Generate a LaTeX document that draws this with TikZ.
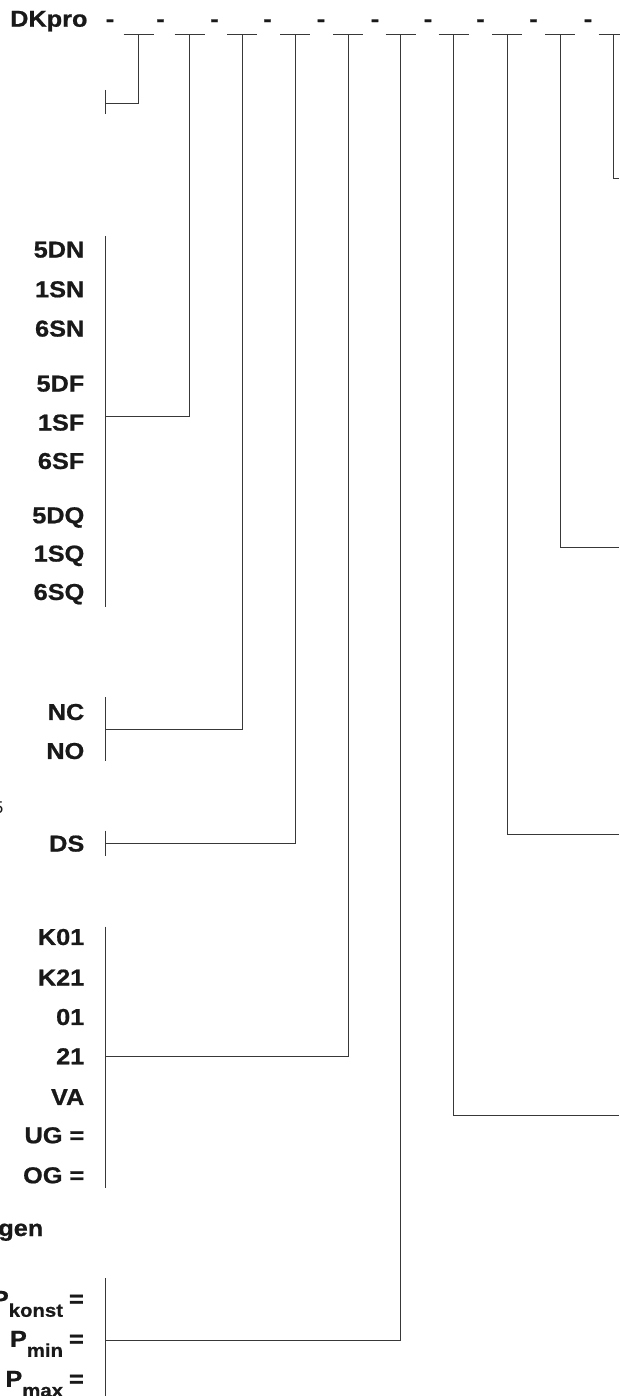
\documentclass[tikz,border=0pt]{standalone}
\usepackage{fontspec}
\setmainfont{Liberation Sans}[FakeStretch=1.1, BoldFeatures={FakeBold=0.8}]
\newfontfamily\plainfont{Liberation Sans}
\newcommand{\mainsz}{\bfseries\fontsize{23}{23}\selectfont}
\newcommand{\subsz}{\bfseries\fontsize{18.5}{18.5}\selectfont}
\newcommand{\psub}[1]{P\raisebox{-10pt}{\subsz #1}\kern 6pt=}
\begin{document}
\begin{tikzpicture}[x=1pt,y=-1pt,
  ln/.style={draw=black!78, line width=1pt},
  lbl/.style={anchor=east, inner sep=0pt, text height=16.5pt, text depth=0pt, font=\mainsz, text=black!90},
  dsh/.style={anchor=base, inner sep=0pt, font=\mainsz, text=black!90},
  title/.style={anchor=base west, inner sep=0pt, font=\mainsz, text=black!90},
  cut/.style={anchor=base east, inner sep=0pt, text=black!90}]
\useasboundingbox (0,0) rectangle (619,1396);

% title and separators
\node[title] (dk) at (10,26.7) {DKpro};
\foreach \i/\x in {1/110,2/160.5,3/214.5,4/267.5,5/321,6/375,7/428,8/480.5,9/533.5,10/588}
  \node[dsh] (d\i) at (\x,26.7) {-};

% top segments
\foreach \i/\x in {1/138.5,2/189.5,3/242,4/295,5/348,6/400.5,7/453.5,8/507,9/560,10/613.5} {
  \coordinate (t\i) at (\x,35);
  \coordinate (tl\i) at (\x-15,35);
  \coordinate (tr\i) at (\x+15,35);
  \draw[ln] (tl\i) -- (tr\i);
}

% left brackets (ticks)
\coordinate (a1) at (105,90);    \coordinate (b1) at (105,114.3);
\coordinate (a2) at (105,236);   \coordinate (b2) at (105,606.7);
\coordinate (a3) at (105,697);   \coordinate (b3) at (105,760.7);
\coordinate (a4) at (105,830.7); \coordinate (b4) at (105,855.7);
\coordinate (a5) at (105,926.7); \coordinate (b5) at (105,1188.3);
\coordinate (a6) at (105,1278);  \coordinate (b6) at (105,1400);
\foreach \i in {1,...,6} \draw[ln] (a\i) -- (b\i);

% join points on the left
\coordinate (k1) at (105,103.3);
\coordinate (k2) at (105,416.7);
\coordinate (k3) at (105,729.3);
\coordinate (k4) at (105,843.3);
\coordinate (k5) at (105,1056);
\coordinate (k6) at (105,1340);
\foreach \i in {1,...,6} \draw[ln] (t\i) |- (k\i);

% right-hand connectors (cut at the edge)
\coordinate (k7) at (619,1115);
\coordinate (k8) at (619,834);
\coordinate (k9) at (619,547);
\coordinate (k10) at (619,179);
\foreach \i in {7,...,10} \draw[ln] (t\i) |- (k\i);

% labels
\foreach \n/\t/\y in {l1/5DN/249.3, l2/1SN/289, l3/6SN/328.3, l4/5DF/383.3, l5/1SF/422.3,
  l6/6SF/460.7, l7/5DQ/515, l8/1SQ/553.3, l9/6SQ/591.7, l10/NC/711.7, l11/NO/750.7,
  l12/DS/843.3, l13/K01/936.7, l14/K21/977.3, l15/01/1016.7, l16/21/1056, l17/VA/1096.7,
  l18/UG =/1135, l19/OG =/1175}
  \node[lbl] (\n) at (84.5,\y) {\t};

\node[lbl] (pk) at (84,1298.5) {\psub{konst}};
\node[lbl] (pmin) at (84,1338.5) {\psub{min}};
\node[lbl] (pmax) at (84,1378.5) {\psub{max}};

% cut-off texts at the left edge
\node[cut, font=\mainsz] (gen) at (43.5,1236) {gen};
\node[cut, font=\plainfont\fontsize{17}{17}\selectfont] (five) at (3.5,813.3) {5};
\end{tikzpicture}
\end{document}
